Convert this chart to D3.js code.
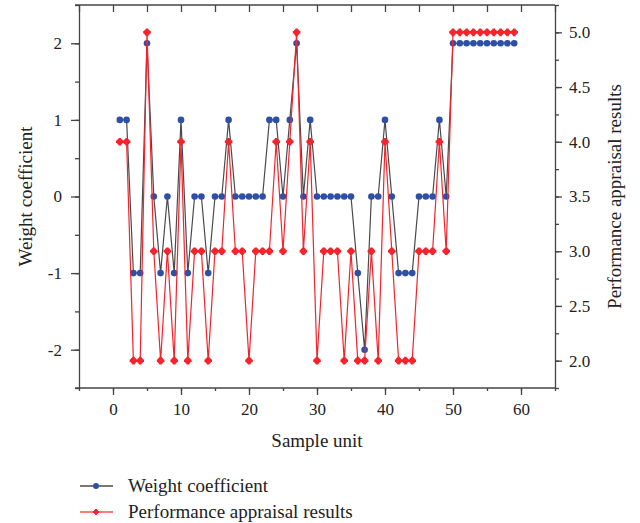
<!DOCTYPE html>
<html>
<head>
<meta charset="utf-8">
<script src="https://cdn.jsdelivr.net/npm/d3@7"></script>
<style>
  body { margin: 0; background: #fff; }
  svg { display: block; }
  text { font-family: "Liberation Serif", "DejaVu Serif", serif; fill: #222; }
</style>
</head>
<body>
<div id="app"></div>
<script>
// sample units 1..59
const samples = d3.range(1, 60);

// weight coefficient (left axis)
const weights = [
  1, 1, -1, -1, 2, 0, -1, 0, -1, 1,
  -1, 0, 0, -1, 0, 0, 1, 0, 0, 0,
  0, 0, 1, 1, 0, 1, 2, 0, 1, 0,
  0, 0, 0, 0, 0, -1, -2, 0, 0, 1,
  0, -1, -1, -1, 0, 0, 0, 1, 0, 2,
  2, 2, 2, 2, 2, 2, 2, 2, 2
];

// performance appraisal results (right axis)
const results = [
  4, 4, 2, 2, 5, 3, 2, 3, 2, 4,
  2, 3, 3, 2, 3, 3, 4, 3, 3, 2,
  3, 3, 3, 4, 3, 4, 5, 3, 4, 2,
  3, 3, 3, 2, 3, 2, 2, 3, 2, 4,
  3, 2, 2, 2, 3, 3, 3, 4, 3, 5,
  5, 5, 5, 5, 5, 5, 5, 5, 5
];

const xTicks = [0, 10, 20, 30, 40, 50, 60];
const leftTicks = [-2, -1, 0, 1, 2];
const rightTicks = [2.0, 2.5, 3.0, 3.5, 4.0, 4.5, 5.0];

const seriesNames = ['Weight coefficient', 'Performance appraisal results'];

const width = 640, height = 523;
const m = { left: 79, right: 85, top: 5, bottom: 135 };
const iw = width - m.left - m.right;
const ih = height - m.top - m.bottom;

const blue = '#2d4fa5', gray = '#4a4a4a', red = '#f5232b';

const svg = d3.select('#app').append('svg')
  .attr('width', width)
  .attr('height', height);

const g = svg.append('g').attr('transform', `translate(${m.left},${m.top})`);

const x = d3.scaleLinear().domain([-5, 65]).range([0, iw]);
const yL = d3.scaleLinear().domain([-2.5, 2.5]).range([ih, 0]);
const yR = d3.scaleLinear().domain([1.75, 5.25]).range([ih, 0]);

// axes
function styleAxis(sel) {
  sel.selectAll('path, line').attr('stroke', '#444').attr('stroke-width', 1.3);
  sel.selectAll('text').attr('font-size', 17).attr('font-family', '"Liberation Serif", serif').attr('fill', '#222');
}

// minor ticks
g.append('g').attr('transform', `translate(0,${ih})`)
  .call(d3.axisBottom(x).tickValues(d3.range(-5, 66, 5)).tickSize(3).tickFormat(''))
  .call(styleAxis).select('.domain').remove();
g.append('g')
  .call(d3.axisLeft(yL).tickValues(d3.range(-2.5, 2.51, 0.5)).tickSize(4).tickFormat(''))
  .call(styleAxis).select('.domain').remove();
g.append('g').attr('transform', `translate(${iw},0)`)
  .call(d3.axisRight(yR).tickValues(d3.range(1.75, 5.26, 0.25)).tickSize(4).tickFormat(''))
  .call(styleAxis).select('.domain').remove();
// top ticks pointing inward
g.append('g')
  .call(d3.axisBottom(x).tickValues(d3.range(-5, 66, 5)).tickSize(7).tickFormat(''))
  .call(styleAxis).select('.domain').remove();

// major ticks
g.append('g').attr('transform', `translate(0,${ih})`)
  .call(d3.axisBottom(x).tickValues(xTicks).tickSize(7).tickPadding(8).tickSizeOuter(0))
  .call(styleAxis)
  .select('.domain').attr('d', `M-4,0H${iw}`);
g.append('g')
  .call(d3.axisLeft(yL).tickValues(leftTicks).tickFormat(d => String(d)).tickSize(8).tickPadding(9).tickSizeOuter(0))
  .call(styleAxis);
g.append('g').attr('transform', `translate(${iw},0)`)
  .call(d3.axisRight(yR).tickValues(rightTicks).tickFormat(d3.format('.1f')).tickSize(7).tickPadding(7).tickSizeOuter(0))
  .call(styleAxis);
g.append('line').attr('x1', -4).attr('x2', iw).attr('y1', 0).attr('y2', 0)
  .attr('stroke', '#444').attr('stroke-width', 1.3);

// axis titles
svg.append('text')
  .attr('x', m.left + x(30)).attr('y', 447)
  .attr('text-anchor', 'middle').attr('font-size', 19)
  .text('Sample unit');
svg.append('text')
  .attr('transform', `translate(32,${m.top + ih / 2}) rotate(-90)`)
  .attr('text-anchor', 'middle').attr('font-size', 19)
  .text('Weight coefficient');
svg.append('text')
  .attr('transform', `translate(621,${m.top + ih / 2}) rotate(-90)`)
  .attr('text-anchor', 'middle').attr('font-size', 19)
  .text('Performance appraisal results');

// weight coefficient series
const lineL = d3.line().x((d, i) => x(samples[i])).y(d => yL(d));
g.append('path').datum(weights)
  .attr('d', lineL).attr('fill', 'none')
  .attr('stroke', gray).attr('stroke-width', 1.2);
g.selectAll('.wdot').data(weights).join('circle')
  .attr('class', 'wdot')
  .attr('cx', (d, i) => x(samples[i])).attr('cy', d => yL(d))
  .attr('r', 3.3).attr('fill', blue);

// performance series
const lineR = d3.line().x((d, i) => x(samples[i])).y(d => yR(d));
g.append('path').datum(results)
  .attr('d', lineR).attr('fill', 'none')
  .attr('stroke', red).attr('stroke-width', 1.2);

function redMarker(sel) {
  sel.append('path').attr('d', d3.symbol(d3.symbolCross, 32)).attr('fill', red);
  sel.append('circle').attr('r', 3.1).attr('fill', red);
}
g.selectAll('.pdot').data(results).join('g')
  .attr('class', 'pdot')
  .attr('transform', (d, i) => `translate(${x(samples[i])},${yR(d)})`)
  .call(redMarker);

// legend
const legend = svg.append('g');
const rows = [
  { y: 486, line: gray, mark: 'circle' },
  { y: 512, line: '#ff4d4d', mark: 'red' }
];
rows.forEach((r, i) => {
  const row = legend.append('g').attr('transform', `translate(0,${r.y})`);
  row.append('line').attr('x1', 80).attr('x2', 113).attr('stroke', r.line).attr('stroke-width', 1.3);
  if (r.mark === 'circle') {
    row.append('circle').attr('cx', 96).attr('r', 3).attr('fill', blue);
  } else {
    row.append('g').attr('transform', 'translate(96,0) scale(0.8)').call(redMarker);
  }
  row.append('text').attr('x', 128).attr('y', 6).attr('font-size', 19).text(seriesNames[i]);
});
</script>
</body>
</html>
